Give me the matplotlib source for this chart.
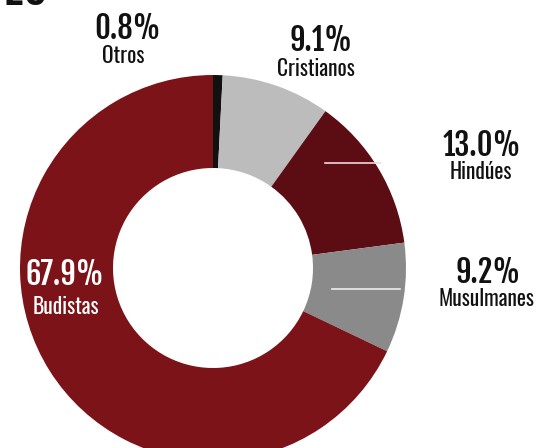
import matplotlib.pyplot as plt
from matplotlib import font_manager

# religion shares (%), clockwise from the top
labels = ["Otros", "Cristianos", "Hindúes", "Musulmanes", "Budistas"]
shares = [0.8, 9.1, 13.0, 9.2, 67.9]
pct_text = ["0.8%", "9.1%", "13.0%", "9.2%", "67.9%"]
colors = ["#111111", "#bcbcbc", "#5b0d13", "#8a8a8a", "#7c1318"]

# pick condensed fonts if installed
names = {f.name for f in font_manager.fontManager.ttflist}
def first(cands):
    return next((c for c in cands if c in names), "DejaVu Sans")
label_font = first(["Oswald", "Pathway Gothic One", "Roboto Condensed"])
pct_font = first(["Fjalla One", "Antonio", "Oswald"])
plt.rcParams["font.family"] = [label_font, "DejaVu Sans"]

W, H = 538, 448
fig = plt.figure(figsize=(W / 100, H / 100), dpi=100)
ax = fig.add_axes([0, 0, 1, 1])

cx, cy = 213, H - 268
r_out, r_in = 193, 100
ax.pie(shares, colors=colors, startangle=90, counterclock=False,
       center=(cx, cy), radius=r_out, frame=True,
       wedgeprops=dict(width=r_out - r_in, linewidth=0))
ax.set_xlim(0, W)
ax.set_ylim(0, H)
ax.set_aspect("equal")
ax.axis("off")

# leader lines inside slices
ax.plot([325, 380], [H - 163, H - 163], color="#f2d8d8", lw=1.2)
ax.plot([332, 400], [H - 289, H - 289], color="#eeeeee", lw=1.2)

# label positions (pixel coords from top)
pos = {
    "Otros": ((128, 29), (123, 56)),
    "Cristianos": ((321, 41), (316, 69)),
    "Hindúes": ((482, 146), (481, 172)),
    "Musulmanes": ((488, 273), (486, 299)),
    "Budistas": ((65, 275), (66, 307)),
}
for lab, pct in zip(labels, pct_text):
    (px, py), (lx, ly) = pos[lab]
    c = "white" if lab == "Budistas" else "#111111"
    ax.text(px, H - py, pct, ha="center", va="center", fontsize=22,
            fontweight="bold", color=c, family=[pct_font, "DejaVu Sans"])
    ax.text(lx, H - ly, lab, ha="center", va="center", fontsize=15.5, color=c)

# cut-off heading at top-left
ax.text(2, H + 12, "EU", ha="left", va="center", fontsize=36,
        fontweight="bold", color="#111111", family=[pct_font, "DejaVu Sans"])

fig.savefig("out.png", dpi=100)
